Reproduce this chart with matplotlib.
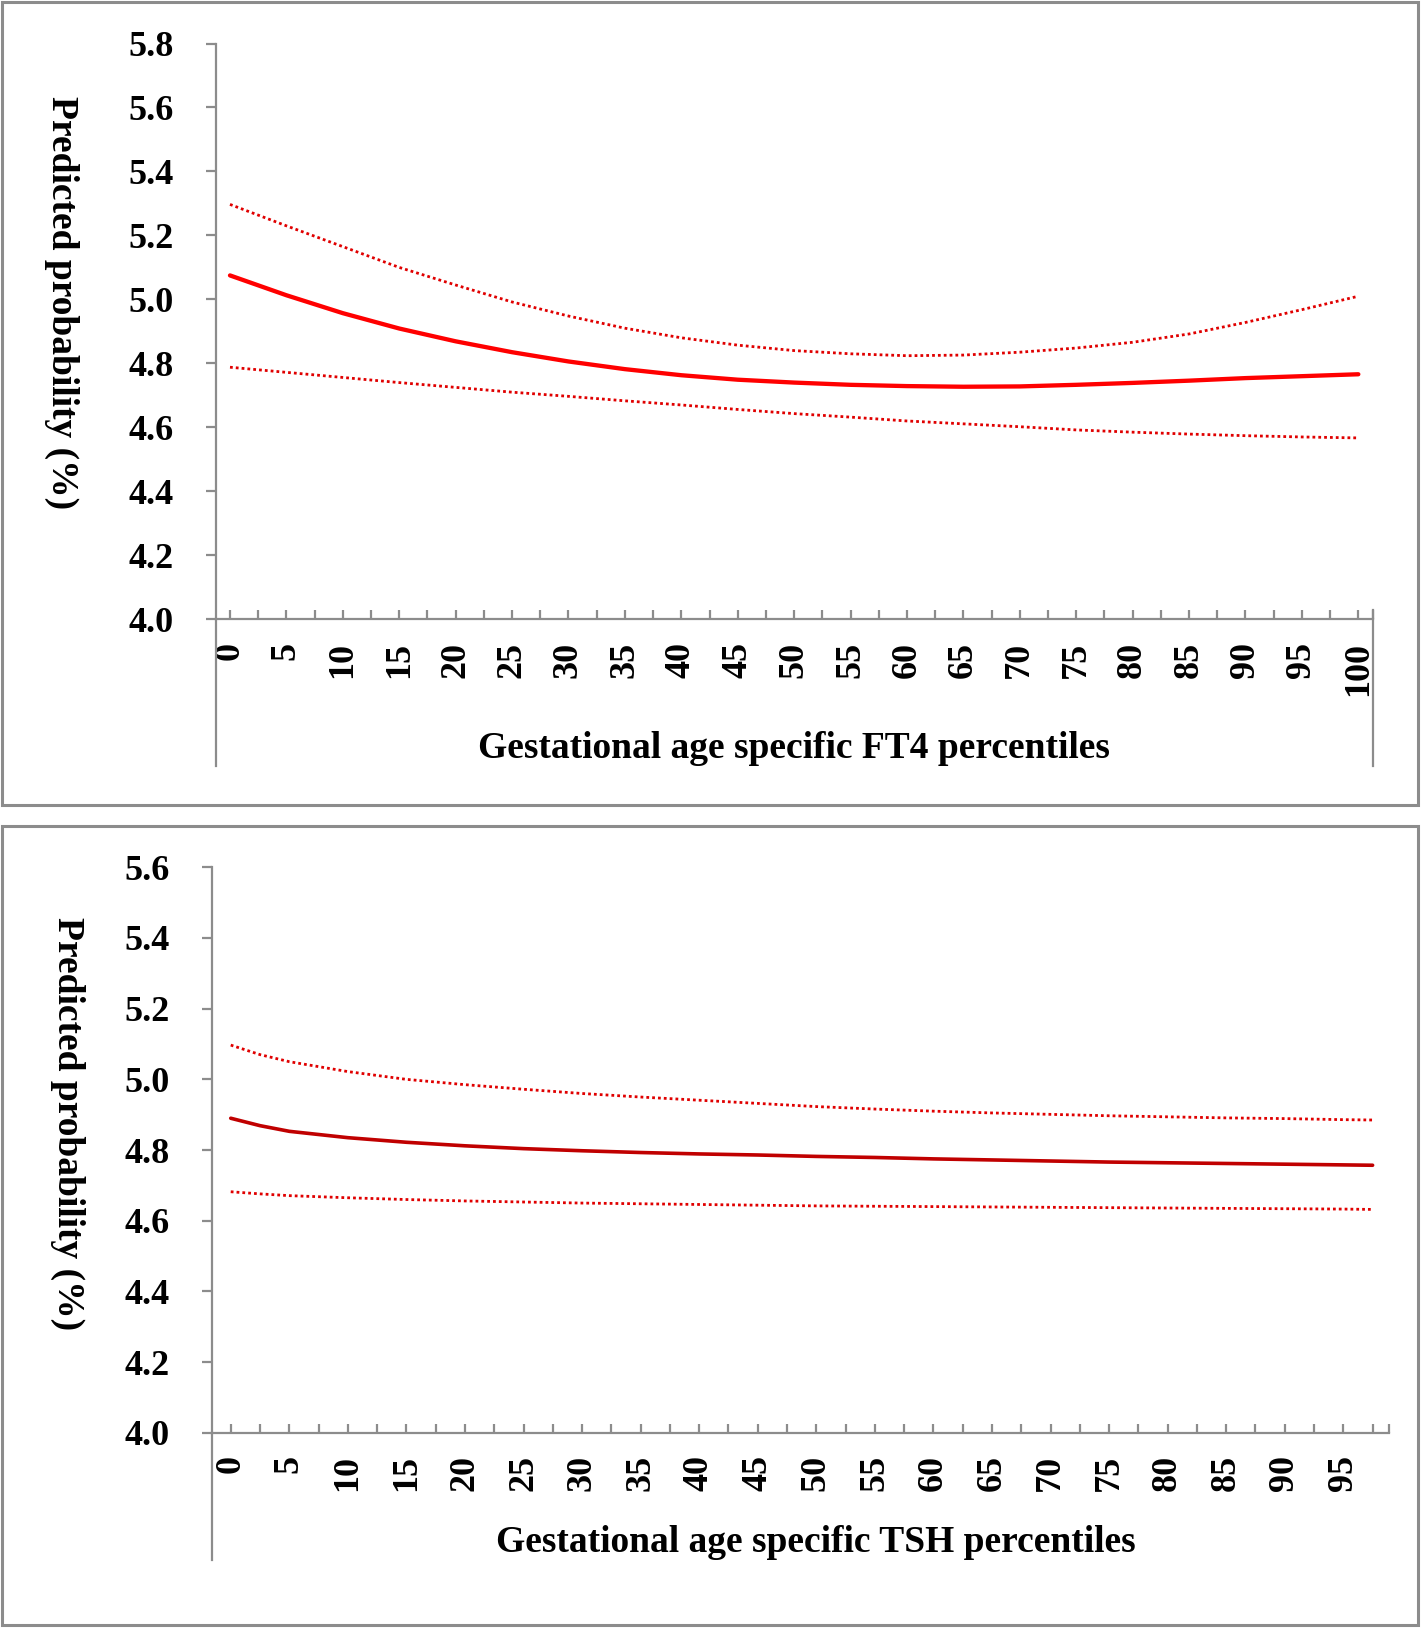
import numpy as np
import matplotlib
matplotlib.use("Agg")
import matplotlib.pyplot as plt
from matplotlib.patches import Rectangle

# FT4 panel (top)
ft4_x = [0, 5, 10, 15, 20, 25, 30, 35, 40, 45, 50, 55, 60, 65, 70, 75, 80, 85, 90, 95, 100]
ft4_fit = [5.075, 5.013, 4.957, 4.909, 4.869, 4.835, 4.806, 4.782, 4.763, 4.749, 4.740,
           4.733, 4.729, 4.727, 4.728, 4.733, 4.739, 4.746, 4.754, 4.760, 4.766]
ft4_upper = [5.297, 5.230, 5.165, 5.100, 5.045, 4.992, 4.948, 4.910, 4.880, 4.857, 4.840,
             4.830, 4.824, 4.826, 4.835, 4.848, 4.866, 4.892, 4.928, 4.968, 5.010]
ft4_lower = [4.788, 4.772, 4.756, 4.740, 4.725, 4.710, 4.697, 4.683, 4.670, 4.656, 4.643,
             4.632, 4.620, 4.611, 4.602, 4.592, 4.585, 4.579, 4.574, 4.570, 4.567]

# TSH panel (bottom)
tsh_x = [0, 2.5, 5, 10, 15, 20, 25, 30, 35, 40, 45, 50, 55, 60, 65, 70, 75, 80, 85, 90, 95, 97.5]
tsh_fit = [4.890, 4.869, 4.853, 4.835, 4.822, 4.812, 4.804, 4.798, 4.793, 4.789, 4.786,
           4.782, 4.779, 4.775, 4.772, 4.769, 4.766, 4.764, 4.762, 4.760, 4.758, 4.757]
tsh_upper = [5.097, 5.070, 5.050, 5.022, 5.000, 4.985, 4.972, 4.960, 4.950, 4.941, 4.932,
             4.923, 4.916, 4.910, 4.905, 4.901, 4.897, 4.894, 4.891, 4.889, 4.886, 4.885]
tsh_lower = [4.682, 4.676, 4.671, 4.665, 4.660, 4.656, 4.653, 4.650, 4.648, 4.646, 4.644,
             4.642, 4.641, 4.640, 4.639, 4.638, 4.637, 4.636, 4.635, 4.634, 4.633, 4.632]

ft4_yticks = [4.0, 4.2, 4.4, 4.6, 4.8, 5.0, 5.2, 5.4, 5.6, 5.8]
tsh_yticks = [4.0, 4.2, 4.4, 4.6, 4.8, 5.0, 5.2, 5.4, 5.6]
ft4_xlabels = list(range(0, 101, 5))
tsh_xlabels = list(range(0, 96, 5))

ylabel = "Predicted probability (%)"
ft4_xlabel = "Gestational age specific FT4 percentiles"
tsh_xlabel = "Gestational age specific TSH percentiles"

W, H = 1424, 1628
GRAY = "#8c8c8c"
plt.rcParams["font.family"] = "Liberation Serif"
plt.rcParams["font.weight"] = "bold"

fig = plt.figure(figsize=(W / 100, H / 100), dpi=100)


def rect(left, top, right, bottom):
    return [left / W, 1 - bottom / H, (right - left) / W, (bottom - top) / H]


def frame(top, bottom):
    fig.add_artist(Rectangle((2 / W, 1 - bottom / H), (W - 8) / W, (bottom - top) / H,
                             transform=fig.transFigure, fill=False, ec=GRAY, lw=2.2))


def panel(box, xlim, ylim, yticks, xlabels, minor, x, fit, upper, lower,
          fit_color, dot_color, fit_lw, xlab, ylab_pos, xlab_pos, ext_bottom, right_line):
    left, top, right, bottom = box
    ax = fig.add_axes(rect(left, top, right, bottom))
    ax.plot(x, upper, color=dot_color, lw=2.0, ls=(0, (1, 1.1)))
    ax.plot(x, lower, color=dot_color, lw=2.0, ls=(0, (1, 1.1)))
    ax.plot(x, fit, color=fit_color, lw=fit_lw, solid_capstyle="round")
    ax.set_xlim(*xlim)
    ax.set_ylim(*ylim)
    for s in ["top", "right"]:
        ax.spines[s].set_visible(False)
    for s in ["left", "bottom"]:
        ax.spines[s].set_color(GRAY)
        ax.spines[s].set_linewidth(1.6)
    ax.set_yticks(yticks)
    ax.set_yticklabels([f"{v:.1f}" for v in yticks])
    ax.set_xticks(xlabels)
    ax.set_xticklabels([str(v) for v in xlabels], rotation=90)
    ax.set_xticks(minor, minor=True)
    ax.tick_params(axis="y", direction="out", length=7.5, width=1.6, color=GRAY,
                   pad=23, labelsize=26)
    ax.tick_params(axis="x", which="both", direction="in", length=6.5, width=1.6,
                   color=GRAY, pad=16, labelsize=26)
    for t in ax.get_xticklabels() + ax.get_yticklabels():
        t.set_fontweight("bold")
    h = bottom - top
    # y axis line continues below the category axis
    ax.plot([0, 0], [0, -(ext_bottom - bottom) / h], transform=ax.transAxes,
            color=GRAY, lw=1.6, clip_on=False)
    if right_line:
        ax.plot([1, 1], [9 / h, -(ext_bottom - bottom) / h], transform=ax.transAxes,
                color=GRAY, lw=1.6, clip_on=False)
    fig.text(ylab_pos[0] / W, 1 - ylab_pos[1] / H, ylabel, rotation=270,
             ha="center", va="center", fontsize=27, fontweight="bold")
    fig.text(xlab_pos[0] / W, 1 - xlab_pos[1] / H, xlab,
             ha="center", va="center", fontsize=27, fontweight="bold")
    return ax


frame(2, 805)
frame(826, 1625)

ft4_minor = [v + 2.5 for v in ft4_xlabels[:-1]] + [101.3]
panel((216, 43.5, 1373, 619.3), (-1.24, 101.3), (4.0, 5.8), ft4_yticks, ft4_xlabels,
      ft4_minor, ft4_x, ft4_fit, ft4_upper, ft4_lower, "#ff0000", "#e00000", 3.1,
      ft4_xlabel, (62, 303), (794, 748), 766, True)

tsh_minor = [v + 2.5 for v in tsh_xlabels] + [98.9]
panel((212, 867.3, 1389, 1432.8), (-1.6, 98.9), (4.0, 5.6), tsh_yticks, tsh_xlabels,
      tsh_minor, tsh_x, tsh_fit, tsh_upper, tsh_lower, "#c00000", "#e00000", 2.6,
      tsh_xlabel, (68, 1124), (816, 1543), 1560, False)

fig.savefig("out.png", dpi=100)
